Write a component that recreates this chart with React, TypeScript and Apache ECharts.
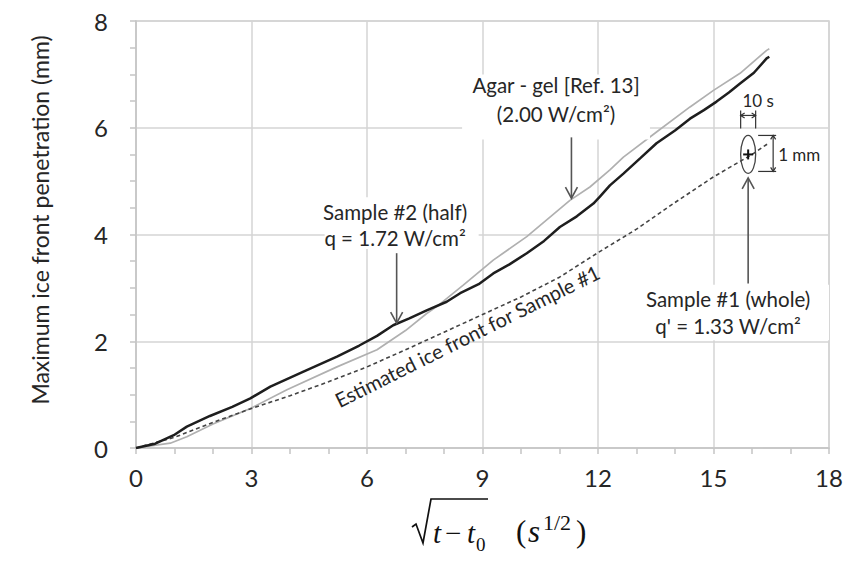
import React, { useEffect, useRef } from "react";
import * as echarts from "echarts";

// Sample #2 (half), q = 1.72 W/cm2 — black solid
const sample2X = [0, 0.5, 0.98, 1.32, 1.92, 2.5, 2.97, 3.49, 4.35, 5.22, 5.8, 6.26, 6.68, 7.1, 7.55, 8.07, 8.42, 8.9, 9.28, 9.7, 10.15, 10.6, 11.01, 11.45, 11.88, 12.05, 12.31, 12.66, 13.1, 13.52, 14.0, 14.39, 14.75, 15.08, 15.4, 15.69, 16.05, 16.38, 16.45];
const sample2Y = [0, 0.08, 0.24, 0.4, 0.6, 0.77, 0.93, 1.15, 1.43, 1.71, 1.92, 2.1, 2.3, 2.43, 2.58, 2.74, 2.9, 3.07, 3.27, 3.44, 3.65, 3.88, 4.14, 4.34, 4.58, 4.71, 4.92, 5.14, 5.43, 5.71, 5.95, 6.17, 6.33, 6.49, 6.66, 6.83, 7.03, 7.3, 7.33];

// Agar-gel [Ref. 13], 2.00 W/cm2 — light grey solid
const agarX = [0, 0.89, 1.32, 2.0, 2.97, 3.92, 5.22, 6.26, 7.0, 7.55, 7.81, 8.5, 9.28, 10.15, 11.27, 11.79, 12.31, 12.66, 13.52, 14.39, 15.0, 15.69, 16.38, 16.45];
const agarY = [0, 0.09, 0.21, 0.45, 0.74, 1.09, 1.52, 1.84, 2.2, 2.52, 2.65, 3.05, 3.52, 3.96, 4.64, 4.89, 5.21, 5.45, 5.92, 6.39, 6.7, 7.02, 7.45, 7.48];

// Estimated ice front for Sample #1 — dashed
const estX = [0, 1, 2, 3, 4, 5, 6, 7, 8, 9, 10, 11, 12, 13, 14, 15, 16, 16.45];
const estY = [0, 0.2, 0.48, 0.74, 0.98, 1.24, 1.52, 1.84, 2.17, 2.5, 2.83, 3.2, 3.66, 4.1, 4.6, 5.08, 5.5, 5.72];

// Sample #1 (whole) measured point (with error ellipse)
const sample1Point = [15.9, 5.5];

const xTicks = { min: 0, max: 18, interval: 3 };
const yTicks = { min: 0, max: 8, interval: 2 };

const zip = (xs: number[], ys: number[]) => xs.map((x, i) => [x, ys[i]]);

const FONT = "Lato, 'Open Sans', sans-serif";
const TXT = "#262626";
const SERIF = "'Liberation Serif', serif";

export default function App() {
  const ref = useRef<HTMLDivElement>(null);
  useEffect(() => {
    document.body.style.margin = "0";
    const chart = echarts.init(ref.current!, null, { renderer: "svg" });
    chart.setOption({
      animation: false,
      backgroundColor: "#fff",
      grid: { left: 136, right: 17, top: 21, bottom: 115, show: true, borderColor: "#d0d0d0", borderWidth: 1.5, backgroundColor: "transparent" },
      xAxis: {
        type: "value",
        ...xTicks,
        axisLine: { show: true, lineStyle: { color: "#c4c4c4", width: 1.5 } },
        axisTick: { show: true, length: 6, lineStyle: { color: "#c4c4c4", width: 1.5 } },
        minorTick: { show: true, splitNumber: 3, length: 6, lineStyle: { color: "#c4c4c4", width: 1.5 } },
        splitLine: { show: true, lineStyle: { color: "#d4d4d4", width: 1.5 } },
        axisLabel: { fontSize: 24, color: TXT, fontFamily: FONT, margin: 17 },
      },
      yAxis: {
        type: "value",
        ...yTicks,
        axisLine: { show: true, lineStyle: { color: "#c4c4c4", width: 1.5 } },
        axisTick: { show: true, length: 6, lineStyle: { color: "#c4c4c4", width: 1.5 } },
        minorTick: { show: true, splitNumber: 4, length: 6, lineStyle: { color: "#c4c4c4", width: 1.5 } },
        splitLine: { show: true, lineStyle: { color: "#d4d4d4", width: 1.5 } },
        axisLabel: { fontSize: 24, color: TXT, fontFamily: FONT, margin: 28 },
      },
      series: [
        { type: "line", name: "Agar - gel", data: zip(agarX, agarY), showSymbol: false, lineStyle: { color: "#b0b0b0", width: 1.7 }, z: 2 },
        { type: "line", name: "Estimated", data: zip(estX, estY), showSymbol: false, lineStyle: { color: "#444", width: 1.6, type: [4, 3] }, z: 3 },
        { type: "line", name: "Sample #2", data: zip(sample2X, sample2Y), showSymbol: false, lineStyle: { color: "#1e1e1e", width: 2.5 }, z: 4 },
      ],
    });

    const p = (x: number, y: number) => chart.convertToPixel({ gridIndex: 0 }, [x, y]) as number[];
    const AC = "#555";
    const arrow = (x: number, y0: number, y1: number) => {
      const a = p(x, y0);
      const b = p(x, y1);
      const dir = b[1] > a[1] ? 1 : -1;
      return [
        { type: "line", shape: { x1: a[0], y1: a[1], x2: b[0], y2: b[1] }, style: { stroke: AC, lineWidth: 1.6 }, z: 20 },
        { type: "polyline", shape: { points: [[b[0] - 6, b[1] - dir * 11], [b[0], b[1]], [b[0] + 6, b[1] - dir * 11]] }, style: { stroke: AC, lineWidth: 1.6, fill: null }, z: 20 },
      ];
    };
    const box = (x0: number, y0: number, x1: number, y1: number) => {
      const a = p(x0, y1);
      const b = p(x1, y0);
      return { type: "rect", shape: { x: a[0], y: a[1], width: b[0] - a[0], height: b[1] - a[1] }, style: { fill: "#fff" }, z: 10 };
    };
    const label = (x: number, y: number, t: string, size = 20.5) => {
      const a = p(x, y);
      return { type: "text", x: a[0], y: a[1], style: { text: t, fill: TXT, font: `${size}px ${FONT}`, align: "center", verticalAlign: "middle" }, z: 21 };
    };

    const c = p(sample1Point[0], sample1Point[1]);
    const cx = c[0], cy = c[1];
    const K = "#333";
    const estPos = p(8.6, 2.1);

    const graphic: any[] = [
      box(8.47, 5.78, 13.35, 7.0),
      label(10.91, 6.8, "Agar - gel [Ref. 13]"),
      label(10.91, 6.26, "(2.00 W/cm²)"),
      ...arrow(11.31, 5.82, 4.68),
      box(4.9, 3.73, 8.9, 4.7),
      label(6.73, 4.42, "Sample #2 (half)"),
      label(6.73, 3.93, "q = 1.72 W/cm²"),
      ...arrow(6.77, 3.65, 2.34),
      box(13.0, 2.02, 18, 3.06),
      label(15.38, 2.79, "Sample #1 (whole)"),
      label(15.38, 2.29, "q' = 1.33 W/cm²"),
      ...arrow(15.9, 3.08, 5.06),
      {
        type: "text", x: estPos[0], y: estPos[1], rotation: (26.5 * Math.PI) / 180,
        style: { text: "Estimated ice front for Sample #1", fill: TXT, font: `20px ${FONT}`, align: "center", verticalAlign: "middle" }, z: 21,
      },
      // y axis title
      {
        type: "text", x: 40, y: 220, rotation: Math.PI / 2,
        style: { text: "Maximum ice front penetration (mm)", fill: TXT, font: `23px ${FONT}`, align: "center", verticalAlign: "middle" }, z: 21,
      },
      // error ellipse and point
      { type: "ellipse", shape: { cx, cy, rx: 7.5, ry: 19 }, style: { stroke: "#444", lineWidth: 1.3, fill: null }, z: 22 },
      { type: "line", shape: { x1: cx - 5, y1: cy, x2: cx + 5, y2: cy }, style: { stroke: "#111", lineWidth: 2 }, z: 23 },
      { type: "line", shape: { x1: cx, y1: cy - 5, x2: cx, y2: cy + 5 }, style: { stroke: "#111", lineWidth: 2 }, z: 23 },
      // 10 s bracket
      { type: "line", shape: { x1: cx - 7.5, y1: cy - 44, x2: cx - 7.5, y2: cy - 26 }, style: { stroke: K, lineWidth: 1.2 }, z: 22 },
      { type: "line", shape: { x1: cx + 7.5, y1: cy - 44, x2: cx + 7.5, y2: cy - 26 }, style: { stroke: K, lineWidth: 1.2 }, z: 22 },
      { type: "line", shape: { x1: cx - 7.5, y1: cy - 39, x2: cx + 7.5, y2: cy - 39 }, style: { stroke: K, lineWidth: 1.2 }, z: 22 },
      { type: "polyline", shape: { points: [[cx - 3.5, cy - 41.5], [cx - 7.5, cy - 39], [cx - 3.5, cy - 36.5]] }, style: { stroke: K, lineWidth: 1.2, fill: null }, z: 22 },
      { type: "polyline", shape: { points: [[cx + 3.5, cy - 41.5], [cx + 7.5, cy - 39], [cx + 3.5, cy - 36.5]] }, style: { stroke: K, lineWidth: 1.2, fill: null }, z: 22 },
      { type: "text", x: cx + 10, y: cy - 54, style: { text: "10 s", fill: TXT, font: `17px ${FONT}`, align: "center", verticalAlign: "middle" }, z: 22 },
      // 1 mm bracket
      { type: "line", shape: { x1: cx + 10, y1: cy - 19, x2: cx + 28, y2: cy - 19 }, style: { stroke: K, lineWidth: 1.2 }, z: 22 },
      { type: "line", shape: { x1: cx + 10, y1: cy + 17, x2: cx + 28, y2: cy + 17 }, style: { stroke: K, lineWidth: 1.2 }, z: 22 },
      { type: "line", shape: { x1: cx + 25, y1: cy - 19, x2: cx + 25, y2: cy + 17 }, style: { stroke: K, lineWidth: 1.2 }, z: 22 },
      { type: "polyline", shape: { points: [[cx + 22.5, cy - 15], [cx + 25, cy - 19], [cx + 27.5, cy - 15]] }, style: { stroke: K, lineWidth: 1.2, fill: null }, z: 22 },
      { type: "polyline", shape: { points: [[cx + 22.5, cy + 13], [cx + 25, cy + 17], [cx + 27.5, cy + 13]] }, style: { stroke: K, lineWidth: 1.2, fill: null }, z: 22 },
      { type: "text", x: cx + 30, y: cy, style: { text: "1 mm", fill: TXT, font: `17px ${FONT}`, align: "left", verticalAlign: "middle" }, z: 22 },
      // x axis title: sqrt(t - t0)  (s^{1/2})
      {
        type: "group", x: 412, y: 543, z: 30,
        children: [
          { type: "polyline", shape: { points: [[0, -16], [4, -19], [11, 0], [19, -44], [76, -44]] }, style: { stroke: "#111", lineWidth: 1.7, fill: null } },
          { type: "text", x: 21, y: 4, style: { text: "t", fill: "#111", font: `italic 29px ${SERIF}`, align: "left", verticalAlign: "bottom" } },
          { type: "text", x: 33, y: 4, style: { text: "−", fill: "#111", font: `29px ${SERIF}`, align: "left", verticalAlign: "bottom" } },
          { type: "text", x: 55, y: 4, style: { text: "t", fill: "#111", font: `italic 29px ${SERIF}`, align: "left", verticalAlign: "bottom" } },
          { type: "text", x: 64, y: 11, style: { text: "0", fill: "#111", font: `19px ${SERIF}`, align: "left", verticalAlign: "bottom" } },
          { type: "text", x: 104, y: 4, style: { text: "(", fill: "#111", font: `31px ${SERIF}`, align: "left", verticalAlign: "bottom" } },
          { type: "text", x: 116, y: 4, style: { text: "s", fill: "#111", font: `italic 31px ${SERIF}`, align: "left", verticalAlign: "bottom" } },
          { type: "text", x: 131, y: -10, style: { text: "1/2", fill: "#111", font: `22px ${SERIF}`, align: "left", verticalAlign: "bottom" } },
          { type: "text", x: 164, y: 4, style: { text: ")", fill: "#111", font: `31px ${SERIF}`, align: "left", verticalAlign: "bottom" } },
        ],
      },
    ];
    chart.setOption({ graphic });
    return () => chart.dispose();
  }, []);
  return <div ref={ref} style={{ width: 846, height: 563 }} />;
}
